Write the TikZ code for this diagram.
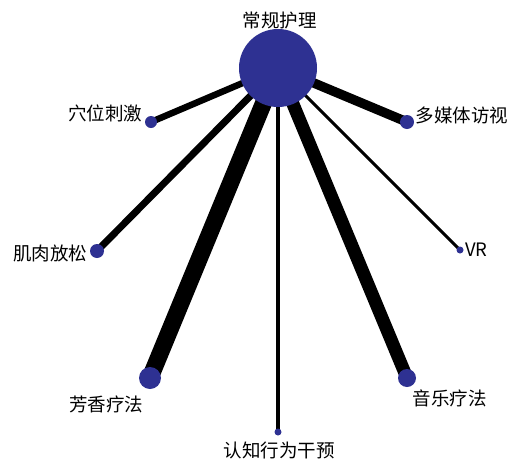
\documentclass[tikz,border=0pt]{standalone}
\usepackage{fontspec}
\setmainfont{Noto Sans CJK SC}
\usetikzlibrary{backgrounds}
\definecolor{nodeblue}{RGB}{46,49,146}
\begin{document}
\begin{tikzpicture}[x=1pt,y=-1pt,
  dot/.style={circle,fill=nodeblue,draw=none,inner sep=0pt,minimum size=#1},
  lbl/.style={font=\fontsize{18.5}{20}\selectfont,inner sep=0pt,text=black},
  edge/.style={line width=#1,draw=black}]
\useasboundingbox (0,0) rectangle (520,461);
% nodes
\node[dot=78pt] (hub) at (278,68) {};
\node[dot=12pt] (xw) at (151,122) {};
\node[dot=14pt] (dm) at (407,122) {};
\node[dot=14pt] (jr) at (97,251) {};
\node[dot=7pt] (vr) at (460,250) {};
\node[dot=22pt] (fx) at (150,378) {};
\node[dot=7pt] (rz) at (278,432) {};
\node[dot=18pt] (yy) at (407,378) {};
% edges behind the nodes
\begin{scope}[on background layer]
\fill[white] (0,0) rectangle (520,461);
\draw[edge=6.5pt] (hub.center) -- (xw.center);
\draw[edge=9.5pt] (hub.center) -- (dm.center);
\draw[edge=7pt] (hub.center) -- (jr.center);
\draw[edge=3pt] (hub.center) -- (vr.center);
\draw[edge=17pt] (hub.center) -- (fx.center);
\draw[edge=3.5pt] (hub.center) -- (rz.center);
\draw[edge=13pt] (hub.center) -- (yy.center);
\end{scope}
% labels
\node[lbl] (lhub) at (279.5,20) {常规护理};
\node[lbl] (lxw) at (105,113) {穴位刺激};
\node[lbl] (ldm) at (462,115) {多媒体访视};
\node[lbl] (ljr) at (50,253) {肌肉放松};
\node[lbl,anchor=west] (lvr) at (465,250) {VR};
\node[lbl] (lfx) at (106,404) {芳香疗法};
\node[lbl] (lrz) at (279,450) {认知行为干预};
\node[lbl] (lyy) at (449.5,398) {音乐疗法};
\end{tikzpicture}
\end{document}
